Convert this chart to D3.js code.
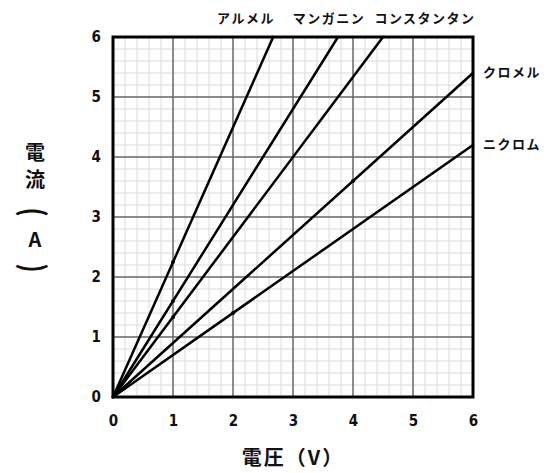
<!DOCTYPE html>
<html lang="ja">
<head>
<meta charset="UTF-8">
<title>電圧と電流</title>
<script src="https://d3js.org/d3.v7.min.js"></script>
<style>
  body { margin: 0; background: #fff; }
  text { font-family: "Noto Sans CJK JP", sans-serif; font-weight: bold; fill: #111; }
  .tick text { font-family: "DejaVu Sans Condensed", "DejaVu Sans", sans-serif; font-size: 15px; }
</style>
</head>
<body>
<div id="chart"></div>
<script>
// materials and their line end points (voltage, current)
const materials = ["アルメル", "マンガニン", "コンスタンタン", "クロメル", "ニクロム"];
const endVolt = [2.67, 3.75, 4.5, 6, 6];
const endAmp = [6, 6, 6, 5.4, 4.2];
// small marks seen on the lines
const markVolt = [1, 1, 1, 4, 2];
const markAmp = [2.25, 1.6, 1.33, 3.6, 1.4];
const ticks = [0, 1, 2, 3, 4, 5, 6];

const W = 553, H = 473;
const margin = {top: 37, right: 80, bottom: 76, left: 113};
const width = W - margin.left - margin.right;   // 360
const height = H - margin.top - margin.bottom;  // 360

const svg = d3.select("#chart").append("svg")
    .attr("width", W).attr("height", H);
const g = svg.append("g").attr("transform", `translate(${margin.left},${margin.top})`);

const x = d3.scaleLinear().domain([0, 6]).range([0, width]);
const y = d3.scaleLinear().domain([0, 6]).range([height, 0]);

// minor grid
const minor = d3.range(0, 30).map(i => i / 5).filter(v => v % 1 !== 0);
g.append("g").selectAll("line.mx").data(minor).join("line")
    .attr("x1", d => x(d)).attr("x2", d => x(d)).attr("y1", 0).attr("y2", height)
    .attr("stroke", "#dadada").attr("stroke-width", 1);
g.append("g").selectAll("line.my").data(minor).join("line")
    .attr("y1", d => y(d)).attr("y2", d => y(d)).attr("x1", 0).attr("x2", width)
    .attr("stroke", "#dadada").attr("stroke-width", 1);
// major grid
g.append("g").selectAll("line").data(ticks.slice(1, -1)).join("line")
    .attr("x1", d => x(d)).attr("x2", d => x(d)).attr("y1", 0).attr("y2", height)
    .attr("stroke", "#666").attr("stroke-width", 1.5);
g.append("g").selectAll("line").data(ticks.slice(1, -1)).join("line")
    .attr("y1", d => y(d)).attr("y2", d => y(d)).attr("x1", 0).attr("x2", width)
    .attr("stroke", "#666").attr("stroke-width", 1.5);

// border
g.append("rect").attr("width", width).attr("height", height)
    .attr("fill", "none").attr("stroke", "#000").attr("stroke-width", 3);

// axes (labels only)
const xAxis = g.append("g").attr("transform", `translate(0,${height})`)
    .call(d3.axisBottom(x).tickValues(ticks).tickSize(0).tickPadding(18).tickFormat(d3.format("d")));
const yAxis = g.append("g")
    .call(d3.axisLeft(y).tickValues(ticks).tickSize(0).tickPadding(12).tickFormat(d3.format("d")));
xAxis.select(".domain").remove();
yAxis.select(".domain").remove();

// lines
materials.forEach((m, i) => {
  g.append("line")
    .attr("x1", x(0)).attr("y1", y(0))
    .attr("x2", x(endVolt[i])).attr("y2", y(endAmp[i]))
    .attr("stroke", "#000").attr("stroke-width", 2.5)
    .attr("stroke-linecap", "round");
  g.append("circle").attr("cx", x(markVolt[i])).attr("cy", y(markAmp[i]))
    .attr("r", 2).attr("fill", "#000");
});

// line labels
const topLabels = [[246, 23], [329, 23], [425, 23]];
[0, 1, 2].forEach(i => {
  svg.append("text").attr("x", topLabels[i][0]).attr("y", topLabels[i][1])
    .attr("text-anchor", "middle").attr("font-size", 13)
    .attr("letter-spacing", 1.5).text(materials[i]);
});
svg.append("text").attr("x", 483).attr("y", y(endAmp[3]) + margin.top + 4)
    .attr("font-size", 13).attr("letter-spacing", 1.5).text(materials[3]);
svg.append("text").attr("x", 483).attr("y", y(endAmp[4]) + margin.top + 4)
    .attr("font-size", 13).attr("letter-spacing", 1.5).text(materials[4]);

// axis titles
svg.append("text").attr("x", margin.left + width / 2).attr("y", 465)
    .attr("text-anchor", "middle").attr("font-size", 20)
    .attr("letter-spacing", 2).text("電圧（V）");

// vertical y title: 電流（A）
svg.append("text").attr("x", 35).attr("y", 160)
    .attr("text-anchor", "middle").attr("font-size", 20).text("電");
svg.append("text").attr("x", 35).attr("y", 187)
    .attr("text-anchor", "middle").attr("font-size", 20).text("流");
svg.append("text").attr("x", 35).attr("y", 247)
    .attr("text-anchor", "middle").attr("font-size", 20).text("A");
// parentheses turned for vertical writing
[["(", 212], [")", 268]].forEach(([c, cy]) => {
  svg.append("text").attr("x", 0).attr("y", 0)
    .attr("text-anchor", "middle").attr("dominant-baseline", "central")
    .attr("font-size", 24)
    .attr("transform", `translate(35,${cy}) rotate(90) scale(1,1.3)`)
    .text(c);
});
</script>
</body>
</html>
